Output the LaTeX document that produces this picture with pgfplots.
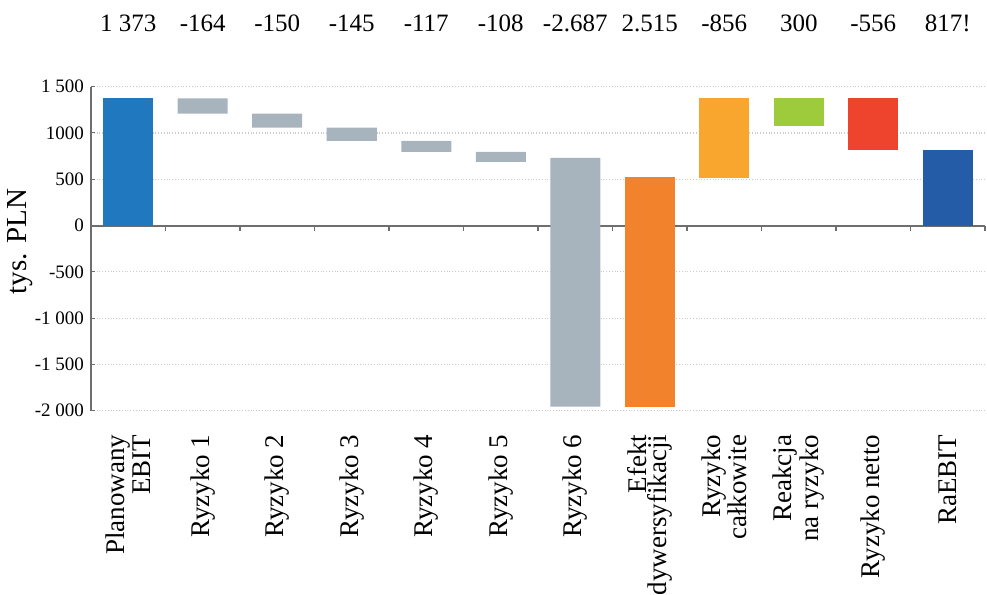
\documentclass[border=0pt]{standalone}
\usepackage{pgfplots}
\pgfplotsset{compat=1.18}
\usepackage{pgfplotstable}
\usepackage{fontspec}
\setmainfont{Liberation Serif}

\definecolor{cBlue}{HTML}{2079BF}
\definecolor{cGray}{HTML}{A7B4BD}
\definecolor{cOrange}{HTML}{F2822C}
\definecolor{cYellow}{HTML}{F8A62D}
\definecolor{cGreen}{HTML}{9ECB3C}
\definecolor{cRed}{HTML}{EE432D}
\definecolor{cNavy}{HTML}{255CA8}
\definecolor{axisgray}{HTML}{6E6E6E}

\pgfplotstableread{
x base blue gray orange yellow green red navy
0 0 1373 0 0 0 0 0 0
1 1209 0 164 0 0 0 0 0
2 1059 0 150 0 0 0 0 0
3 914 0 145 0 0 0 0 0
4 797 0 117 0 0 0 0 0
5 689 0 108 0 0 0 0 0
6 -1955 0 2687 0 0 0 0 0
7 -1955 0 0 2475 0 0 0 0
8 512 0 0 0 861 0 0 0
9 1073 0 0 0 0 300 0 0
10 817 0 0 0 0 0 556 0
11 0 0 0 0 0 0 0 817
}\datatable

\begin{document}
\begin{tikzpicture}
\begin{axis}[
  scale only axis, width=447pt, height=162pt,
  xmin=-0.5, xmax=11.5, ymin=-2000, ymax=1500,
  ybar stacked, stack negative=on previous, bar width=25pt,
  axis x line*=bottom, axis y line*=left,
  x axis line style={draw=none},
  y axis line style={draw=axisgray, line width=0.6pt},
  xtick={0,...,11},
  xticklabels={{Planowany\\EBIT},{Ryzyko 1},{Ryzyko 2},{Ryzyko 3},{Ryzyko 4},{Ryzyko 5},{Ryzyko 6},{Efekt\\dywersyfikacji},{Ryzyko\\całkowite},{Reakcja\\na ryzyko},{Ryzyko netto},{RaEBIT}},
  xtick style={draw=none},
  xticklabel style={rotate=90, anchor=east, align=right, font=\fontsize{13.5}{10}\selectfont, xshift=-8.5pt},
  ytick={-2000,-1500,-1000,-500,0,500,1000,1500},
  yticklabels={-2 000,-1 500,-1 000,-500,0,500,1000,1 500},
  yticklabel style={font=\fontsize{9.5}{11}\selectfont},
  ytick style={draw=axisgray, line width=0.5pt},
  major tick length=2pt,
  ymajorgrids, grid style={densely dotted, black!20, line width=0.6pt},
  ylabel={tys. PLN},
  ylabel style={at={(axis description cs:-0.0727,0.522)}, anchor=base, font=\fontsize{14.5}{16}\selectfont},
  clip=false,
]
\addplot[draw=none, fill=none] table[x=x, y=base] {\datatable};
\addplot[draw=none, fill=cBlue] table[x=x, y=blue] {\datatable};
\addplot[draw=none, fill=cGray] table[x=x, y=gray] {\datatable};
\addplot[draw=none, fill=cOrange] table[x=x, y=orange] {\datatable};
\addplot[draw=none, fill=cYellow] table[x=x, y=yellow] {\datatable};
\addplot[draw=none, fill=cGreen] table[x=x, y=green] {\datatable};
\addplot[draw=none, fill=cRed] table[x=x, y=red] {\datatable};
\addplot[draw=none, fill=cNavy] table[x=x, y=navy] {\datatable};

\draw[axisgray, line width=1pt] (axis cs:-0.5,0) -- (axis cs:11.5,0);
\draw[axisgray, line width=0.6pt] (axis cs:0.5,0) -- ++(0pt,-2.5pt);
\draw[axisgray, line width=0.6pt] (axis cs:1.5,0) -- ++(0pt,-2.5pt);
\draw[axisgray, line width=0.6pt] (axis cs:2.5,0) -- ++(0pt,-2.5pt);
\draw[axisgray, line width=0.6pt] (axis cs:3.5,0) -- ++(0pt,-2.5pt);
\draw[axisgray, line width=0.6pt] (axis cs:4.5,0) -- ++(0pt,-2.5pt);
\draw[axisgray, line width=0.6pt] (axis cs:5.5,0) -- ++(0pt,-2.5pt);
\draw[axisgray, line width=0.6pt] (axis cs:6.5,0) -- ++(0pt,-2.5pt);
\draw[axisgray, line width=0.6pt] (axis cs:7.5,0) -- ++(0pt,-2.5pt);
\draw[axisgray, line width=0.6pt] (axis cs:8.5,0) -- ++(0pt,-2.5pt);
\draw[axisgray, line width=0.6pt] (axis cs:9.5,0) -- ++(0pt,-2.5pt);
\draw[axisgray, line width=0.6pt] (axis cs:10.5,0) -- ++(0pt,-2.5pt);
\draw[axisgray, line width=0.6pt] (axis cs:11.5,0) -- ++(0pt,-2.5pt);

\node[anchor=base, font=\fontsize{12.5}{14}\selectfont, yshift=27.5pt] at (axis cs:0,1500) {1 373};
\node[anchor=base, font=\fontsize{12.5}{14}\selectfont, yshift=27.5pt] at (axis cs:1,1500) {-164};
\node[anchor=base, font=\fontsize{12.5}{14}\selectfont, yshift=27.5pt] at (axis cs:2,1500) {-150};
\node[anchor=base, font=\fontsize{12.5}{14}\selectfont, yshift=27.5pt] at (axis cs:3,1500) {-145};
\node[anchor=base, font=\fontsize{12.5}{14}\selectfont, yshift=27.5pt] at (axis cs:4,1500) {-117};
\node[anchor=base, font=\fontsize{12.5}{14}\selectfont, yshift=27.5pt] at (axis cs:5,1500) {-108};
\node[anchor=base, font=\fontsize{12.5}{14}\selectfont, yshift=27.5pt] at (axis cs:6,1500) {-2.687};
\node[anchor=base, font=\fontsize{12.5}{14}\selectfont, yshift=27.5pt] at (axis cs:7,1500) {2.515};
\node[anchor=base, font=\fontsize{12.5}{14}\selectfont, yshift=27.5pt] at (axis cs:8,1500) {-856};
\node[anchor=base, font=\fontsize{12.5}{14}\selectfont, yshift=27.5pt] at (axis cs:9,1500) {300};
\node[anchor=base, font=\fontsize{12.5}{14}\selectfont, yshift=27.5pt] at (axis cs:10,1500) {-556};
\node[anchor=base, font=\fontsize{12.5}{14}\selectfont, yshift=27.5pt] at (axis cs:11,1500) {817!};

\coordinate (SW) at (rel axis cs:0,0);
\coordinate (NE) at (rel axis cs:1,1);
\end{axis}
\pgfresetboundingbox
\path[use as bounding box] ([xshift=-45.5pt,yshift=-92.15pt]SW) rectangle ([xshift=1pt,yshift=43.35pt]NE);
\end{tikzpicture}
\end{document}
